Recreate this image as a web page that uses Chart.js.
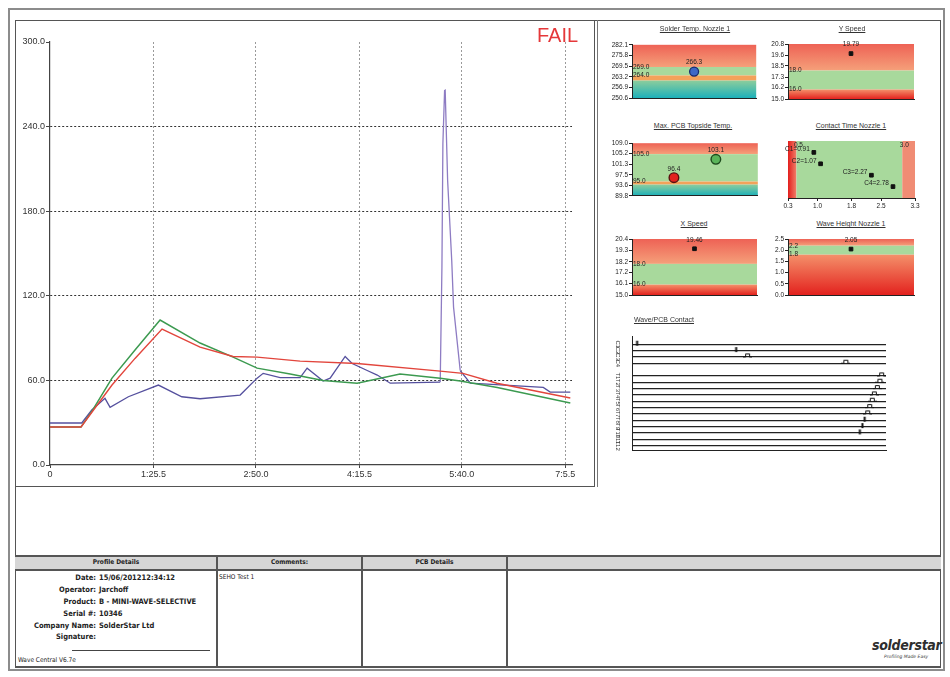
<!DOCTYPE html>
<html>
<head>
<meta charset="utf-8">
<title>Wave Central profile</title>
<script src="https://cdn.jsdelivr.net/npm/chart.js@4.4.1/dist/chart.umd.min.js"></script>
<style>
  body { margin: 0; background: #fff; }
  #page { position: relative; width: 950px; height: 677px; overflow: hidden; color: #222; font-family: "DejaVu Sans Condensed", "DejaVu Sans", sans-serif; }
  .box { position: absolute; box-sizing: border-box; }
  canvas { position: absolute; }
  .ttl { position: absolute; width: 150px; text-align: center; font: 7px "Liberation Sans", Arial, sans-serif; text-decoration: underline; color: #333; line-height: 9px; }
  .hd { position: absolute; top: 557px; font-size: 6.5px; font-weight: bold; text-align: center; line-height: 11px; }
  .lbl { position: absolute; left: 15px; width: 81px; text-align: right; font-size: 7.5px; font-weight: bold; line-height: 10px; }
  .val { position: absolute; left: 99px; font-size: 7.5px; font-weight: bold; line-height: 10px; white-space: nowrap; }
</style>
</head>
<body>
<div id="page">
  <div class="box" style="left:8px;top:8px;width:937px;height:663px;border:2px solid #8c8c8c;"></div>
  <div class="box" style="left:15px;top:20px;width:926px;height:648px;border:1px solid #555;"></div>
  <div class="box" style="left:15px;top:20px;width:580px;height:467px;border:1px solid #555;"></div>
  <div class="box" style="left:597px;top:20px;width:1px;height:467px;background:#777;"></div>

  <canvas id="profile" width="578" height="464" style="left:16px;top:21px;"></canvas>
  <div class="box" style="left:537px;top:24px;font:20px 'Liberation Sans',Arial,sans-serif;color:#e5383a;line-height:22px;">FAIL</div>

  <div class="ttl" style="left:620px;top:24px;">Solder Temp. Nozzle 1</div>
  <div class="ttl" style="left:777px;top:24px;">Y Speed</div>
  <div class="ttl" style="left:618px;top:121px;">Max. PCB Topside Temp.</div>
  <div class="ttl" style="left:776px;top:121px;">Contact Time Nozzle 1</div>
  <div class="ttl" style="left:619px;top:219px;">X Speed</div>
  <div class="ttl" style="left:776px;top:219px;">Wave Height Nozzle 1</div>
  <div class="ttl" style="left:589px;top:315px;">Wave/PCB Contact</div>

  <canvas id="solderTemp" width="156" height="65" style="left:606px;top:39px;"></canvas>
  <canvas id="ySpeed" width="157" height="65" style="left:762px;top:39px;"></canvas>
  <canvas id="pcbTemp" width="158" height="65" style="left:606px;top:137px;"></canvas>
  <canvas id="contactTime" width="139" height="76" style="left:782px;top:136px;"></canvas>
  <canvas id="xSpeed" width="156" height="66" style="left:606px;top:234px;"></canvas>
  <canvas id="waveHeight" width="157" height="66" style="left:762px;top:234px;"></canvas>
  <canvas id="waveContact" width="281" height="124" style="left:610px;top:331px;"></canvas>

  <!-- details table -->
  <div class="box" style="left:15px;top:555px;width:926px;height:16px;background:#d6d6d6;border-top:2px solid #555;border-bottom:2px solid #555;"></div>
  <div class="box" style="left:216px;top:555px;width:2px;height:112px;background:#555;"></div>
  <div class="box" style="left:361px;top:555px;width:2px;height:112px;background:#555;"></div>
  <div class="box" style="left:506px;top:555px;width:2px;height:112px;background:#555;"></div>
  <div class="box" style="left:15px;top:666px;width:926px;height:2px;background:#555;"></div>
  <div class="hd" style="left:15px;width:202px;">Profile Details</div>
  <div class="hd" style="left:217px;width:145px;">Comments:</div>
  <div class="hd" style="left:362px;width:145px;">PCB Details</div>

  <div class="lbl" style="top:573px;">Date:</div><div class="val" style="top:573px;">15/06/201212:34:12</div>
  <div class="lbl" style="top:585px;">Operator:</div><div class="val" style="top:585px;">Jarchoff</div>
  <div class="lbl" style="top:597px;">Product:</div><div class="val" style="top:597px;">B - MINI-WAVE-SELECTIVE</div>
  <div class="lbl" style="top:609px;">Serial #:</div><div class="val" style="top:609px;">10346</div>
  <div class="lbl" style="top:621px;">Company Name:</div><div class="val" style="top:621px;">SolderStar Ltd</div>
  <div class="lbl" style="top:632px;">Signature:</div>
  <div class="box" style="left:72px;top:650px;width:138px;height:1px;background:#444;"></div>
  <div class="box" style="left:18px;top:656px;font-size:6.5px;line-height:9px;">Wave Central V6.7e</div>
  <div class="box" style="left:219px;top:573px;font-size:6.5px;line-height:9px;">SEHO Test 1</div>
  <div class="box" style="left:872px;top:637px;font:italic bold 14px 'DejaVu Sans Condensed',sans-serif;color:#2e2e2e;letter-spacing:-0.3px;">solderstar</div>
  <div class="box" style="left:884px;top:654px;font:italic 4.5px 'DejaVu Sans',sans-serif;color:#444;">Profiling Made Easy</div>
</div>

<script>
// ---- main profile: time (s) and temperature (°C) ----
const xTickValues = [0, 85.5, 170, 255.5, 340, 425.5];
const xTickLabels = ["0", "1:25.5", "2:50.0", "4:15.5", "5:40.0", "7:5.5"];
const yTickValues = [0, 60, 120, 180, 240, 300];

const greenTime = [0, 25.6, 34.4, 51.2, 70.2, 90.9, 123.9, 151.2, 171, 198.3, 225.5, 253.6, 289, 322.2, 338.7, 369.3, 429.6];
const greenTemp = [27, 27, 37.8, 61.6, 81.5, 102.8, 86.5, 76.5, 68.7, 64.5, 60, 58, 64.5, 61.6, 59.5, 55, 44];

const redTime = [0, 25.6, 51.2, 70.2, 92.5, 123.9, 151.2, 171, 206.5, 253.6, 322.2, 341, 369, 429.6];
const redTemp = [27, 27, 56.7, 75.6, 96.4, 83.6, 77, 76.5, 73.7, 72, 66.6, 65, 58, 47.5];

const purpleTime = [0, 26.2, 34.5, 45.4, 49.6, 64.7, 89.5, 108.8, 123.9, 157, 171, 176, 190, 206.5, 212.3, 225.5, 231.3, 243.7, 249.5, 261.9, 270.2, 280.9, 322.2, 323.6, 324.4, 325.8, 326.3, 328.3, 331.7, 333.2, 338.7, 347, 407.3, 413, 429.6];
const purpleTemp = [29.8, 29.8, 39, 47.3, 40.9, 48.4, 56.7, 48.4, 47, 49.6, 61.6, 65, 62, 62, 68.7, 59.5, 61.6, 77, 72, 67, 63.8, 58, 58.8, 140, 228, 265.5, 265.8, 202, 145, 112, 67, 58, 55, 51.7, 51.7];

// ---- process window charts ----
const solderTempTicks = [250.6, 256.9, 263.2, 269.5, 275.8, 282.1];
const solderTempLimits = [261.0, 264.0, 269.0];
const solderTempValues = [266.3];

const ySpeedTicks = [15.0, 16.2, 17.3, 18.5, 19.6, 20.8];
const ySpeedLimits = [16.0, 18.0];
const ySpeedValues = [19.79];

const pcbTempTicks = [89.8, 93.6, 97.5, 101.3, 105.2, 109.0];
const pcbTempLimits = [93.9, 95.0, 105.0];
const pcbTempValues = [96.4, 103.1];

const contactTicks = [0.3, 1.0, 1.8, 2.5, 3.3];
const contactLimits = [0.5, 3.0];
const contactNames = ["C1", "C2", "C3", "C4"];
const contactValues = [0.91, 1.07, 2.27, 2.78];

const xSpeedTicks = [15.0, 16.1, 17.2, 18.2, 19.3, 20.4];
const xSpeedLimits = [16.0, 18.0];
const xSpeedValues = [19.46];

const waveHeightTicks = [0.0, 0.5, 1.0, 1.5, 2.0, 2.5];
const waveHeightLimits = [1.8, 2.2];
const waveHeightValues = [2.05];

// ---- wave / pcb contact events ----
const waveRowLabels = ["C1", "C2", "C3", "C4", "", "T1", "T2", "T3", "T4", "T5", "T6", "T7", "T8", "T9", "T10", "T11", "T12"];
const pulseRow = [0, 1, 2, 3, 5, 6, 7, 8, 9, 10, 11, 12, 13, 14];
const pulseTime = [2, 41, 45.5, 84.2, 98.3, 97.6, 96.6, 95.4, 94.6, 93.6, 92.8, 91.6, 90.7, 89.7];
const pulseKind = ["tick", "tick", "bump", "bump", "bump", "bump", "bump", "bump", "bump", "bump", "bump", "tick", "tick", "tick"];

const axisFont = { family: "'Liberation Sans', Arial, sans-serif", size: 9 };
const tinyFont = { family: "'Liberation Sans', Arial, sans-serif", size: 6.5 };
const pts = (xs, ys) => xs.map((x, i) => ({ x, y: ys[i] }));

Chart.defaults.animation = false;
Chart.defaults.events = [];
Chart.defaults.plugins.legend.display = false;
Chart.defaults.plugins.tooltip.enabled = false;

new Chart(document.getElementById("profile"), {
  type: "line",
  data: {
    datasets: [
      { data: pts(redTime, redTemp), borderColor: "#e2453c", borderWidth: 1.4, pointRadius: 0 },
      { data: pts(greenTime, greenTemp), borderColor: "#3c9a50", borderWidth: 1.5, pointRadius: 0 },
      {
        data: pts(purpleTime, purpleTemp), borderColor: "#55509e", borderWidth: 1.3, pointRadius: 0,
        segment: { borderColor: c => (c.p0.parsed.y > 90 || c.p1.parsed.y > 90) ? "#8e7cc3" : undefined },
      },
    ],
  },
  options: {
    responsive: false,
    layout: { padding: { top: 21, right: 22, left: 0, bottom: 0 } },
    scales: {
      x: {
        type: "linear", min: 0, max: 431,
        afterBuildTicks: s => { s.ticks = xTickValues.map(v => ({ value: v })); },
        afterFit: s => { s.height = 20; },
        ticks: { font: axisFont, color: "#333", padding: 1, maxRotation: 0, autoSkip: false, callback: (v, i) => xTickLabels[i] },
        grid: { color: c => c.tick && c.tick.value === 0 ? "rgba(0,0,0,0)" : "#9a9a9a", tickColor: "#444", tickLength: 3 },
        border: { color: "#444", width: 1.2, dash: [2, 2] },
      },
      y: {
        type: "linear", min: 0, max: 300,
        afterBuildTicks: s => { s.ticks = yTickValues.map(v => ({ value: v })); },
        afterFit: s => { s.width = 34; },
        ticks: { font: axisFont, color: "#333", padding: 1, autoSkip: false, callback: v => v.toFixed(1) },
        grid: { color: c => c.tick && (c.tick.value === 0 || c.tick.value === 300) ? "rgba(0,0,0,0)" : "#333", tickColor: "#444", tickLength: 4 },
        border: { color: "#444", width: 1.2, dash: [2, 2] },
      },
    },
  },
});

// coloured process windows behind the markers
const bandPlugin = {
  id: "bands",
  beforeDraw(chart, args, o) {
    if (!o.kind) return;
    const { ctx, chartArea: a, scales } = chart;
    ctx.save();
    let g;
    if (o.kind === "contact") {
      const xl = scales.x.getPixelForValue(o.low), xh = scales.x.getPixelForValue(o.high);
      g = ctx.createLinearGradient(a.left, 0, xl, 0);
      g.addColorStop(0, "#e31e1c"); g.addColorStop(1, "#f0806a");
      ctx.fillStyle = g; ctx.fillRect(a.left, a.top, xl - a.left, a.height);
      ctx.fillStyle = "#a8d99c"; ctx.fillRect(xl, a.top, xh - xl, a.height);
      ctx.fillStyle = "#f08c74"; ctx.fillRect(xh, a.top, a.right - xh, a.height);
    } else {
      const y = scales.y;
      const yh = y.getPixelForValue(o.high), yl = y.getPixelForValue(o.low);
      g = ctx.createLinearGradient(0, a.top, 0, yh);
      g.addColorStop(0, "#ee6255"); g.addColorStop(1, "#f5a07a");
      ctx.fillStyle = g; ctx.fillRect(a.left, a.top, a.width, yh - a.top);
      ctx.fillStyle = "#a8d99c"; ctx.fillRect(a.left, yh, a.width, yl - yh);
      if (o.kind === "temp") {
        const yw = y.getPixelForValue(o.warn);
        ctx.fillStyle = "#f3a25a"; ctx.fillRect(a.left, yl, a.width, yw - yl);
        g = ctx.createLinearGradient(0, yw, 0, a.bottom);
        g.addColorStop(0, "#8ccd9c"); g.addColorStop(1, "#1bb0ba");
        ctx.fillStyle = g; ctx.fillRect(a.left, yw, a.width, a.bottom - yw);
      } else {
        g = ctx.createLinearGradient(0, yl, 0, a.bottom);
        g.addColorStop(0, "#f4906a"); g.addColorStop(1, "#e3221e");
        ctx.fillStyle = g; ctx.fillRect(a.left, yl, a.width, a.bottom - yl);
      }
    }
    ctx.restore();
  },
  afterDatasetsDraw(chart, args, o) {
    if (!o.kind) return;
    const { ctx, chartArea: a, scales } = chart;
    ctx.save();
    ctx.font = "6.5px 'Liberation Sans', Arial, sans-serif";
    ctx.fillStyle = "#222";
    ctx.textBaseline = "middle";
    if (o.kind === "contact") {
      ctx.textAlign = "center";
      [o.low, o.high].forEach(v => ctx.fillText(v.toFixed(1), scales.x.getPixelForValue(v) + 2, a.top + 4));
    } else {
      ctx.textAlign = "left";
      [o.low, o.high].forEach(v => ctx.fillText(v.toFixed(1), a.left + 1, scales.y.getPixelForValue(v)));
    }
    chart.getDatasetMeta(0).data.forEach((pt, i) => {
      if (o.kind === "contact") {
        ctx.textAlign = "right";
        ctx.fillText(o.labels[i], pt.x - 4, pt.y - 3);
      } else {
        ctx.textAlign = "center";
        ctx.fillText(o.labels[i], pt.x, pt.y - 9);
      }
    });
    ctx.restore();
  },
};

function windowChart(id, ticks, limits, values, decimals, kind, marker) {
  const lim = kind === "temp" ? { warn: limits[0], low: limits[1], high: limits[2] } : { low: limits[0], high: limits[1] };
  return new Chart(document.getElementById(id), {
    type: "scatter",
    data: {
      datasets: [{
        data: values.map((v, i) => ({ x: i + 1, y: v })),
        pointStyle: marker.style, pointRadius: marker.radius,
        backgroundColor: marker.fill, borderColor: marker.stroke, borderWidth: marker.width,
      }],
    },
    options: {
      responsive: false,
      layout: { padding: { top: 4, right: 4, bottom: 2, left: 0 } },
      plugins: { bands: Object.assign({ kind, labels: values.map(v => v.toFixed(decimals)) }, lim) },
      scales: {
        x: {
          type: "linear", min: 0, max: values.length + 1,
          ticks: { display: false }, grid: { display: false },
          border: { color: "#222", width: 1 },
          afterFit: s => { s.height = 0; },
        },
        y: {
          type: "linear", min: ticks[0], max: ticks[ticks.length - 1],
          afterBuildTicks: s => { s.ticks = ticks.map(v => ({ value: v })); },
          afterFit: s => { s.width = 26; },
          ticks: { font: tinyFont, color: "#222", padding: 1, autoSkip: false, callback: v => v.toFixed(1) },
          grid: { drawOnChartArea: false, tickLength: 3, tickColor: "#222" },
          border: { color: "#222", width: 1 },
        },
      },
    },
    plugins: [bandPlugin],
  });
}

const squareMark = { style: "rect", radius: 2.6, fill: "#111", stroke: "#111", width: 1 };
windowChart("solderTemp", solderTempTicks, solderTempLimits, solderTempValues, 1, "temp",
  { style: "circle", radius: 4.5, fill: "#3d68c6", stroke: "#1b2a6e", width: 1.3 });
windowChart("ySpeed", ySpeedTicks, ySpeedLimits, ySpeedValues, 2, "speed", squareMark);
windowChart("pcbTemp", pcbTempTicks, pcbTempLimits, pcbTempValues, 1, "temp",
  { style: "circle", radius: 4.8, fill: ["#e2231f", "#5ab45a"], stroke: ["#5a1010", "#1d4a1d"], width: 1.4 });
windowChart("xSpeed", xSpeedTicks, xSpeedLimits, xSpeedValues, 2, "speed", squareMark);
windowChart("waveHeight", waveHeightTicks, waveHeightLimits, waveHeightValues, 2, "speed", squareMark);

// contact time: values on the horizontal axis, probes stacked downwards
new Chart(document.getElementById("contactTime"), {
  type: "scatter",
  data: {
    datasets: [{
      data: contactValues.map((v, i) => ({ x: v, y: contactValues.length - i })),
      pointStyle: "rect", pointRadius: 2.6, backgroundColor: "#111", borderColor: "#111",
    }],
  },
  options: {
    responsive: false,
    layout: { padding: { top: 4, right: 6, bottom: 0, left: 6 } },
    plugins: {
      bands: {
        kind: "contact", low: contactLimits[0], high: contactLimits[1],
        labels: contactValues.map((v, i) => contactNames[i] + "=" + v.toFixed(2)),
      },
    },
    scales: {
      x: {
        type: "linear", min: contactTicks[0], max: contactTicks[contactTicks.length - 1],
        afterBuildTicks: s => { s.ticks = contactTicks.map(v => ({ value: v })); },
        afterFit: s => { s.height = 14; },
        ticks: { font: tinyFont, color: "#222", padding: 1, maxRotation: 0, autoSkip: false, callback: v => v.toFixed(1) },
        grid: { drawOnChartArea: false, tickLength: 3, tickColor: "#222" },
        border: { color: "#222", width: 1 },
      },
      y: { type: "linear", min: 0, max: 5, display: false },
    },
  },
  plugins: [bandPlugin],
});

// wave/pcb contact rows
function pulseGlyph(kind) {
  const c = document.createElement("canvas");
  c.width = 9; c.height = 9;
  const g = c.getContext("2d");
  g.strokeStyle = "#111"; g.fillStyle = "#111"; g.lineWidth = 1;
  if (kind === "bump") {
    g.beginPath();
    g.moveTo(0, 4.5); g.lineTo(2.5, 4.5); g.lineTo(2.5, 1.5); g.lineTo(6.5, 1.5); g.lineTo(6.5, 4.5); g.lineTo(9, 4.5);
    g.stroke();
  } else {
    g.fillRect(3.5, 1, 2, 5);
  }
  return c;
}
const glyphs = { bump: pulseGlyph("bump"), tick: pulseGlyph("tick") };

const rowLabelPlugin = {
  id: "rowLabels",
  afterDraw(chart) {
    const { ctx, chartArea: a, scales } = chart;
    ctx.save();
    ctx.font = "6px 'Liberation Sans', Arial, sans-serif";
    ctx.fillStyle = "#333";
    ctx.textAlign = "center";
    ctx.textBaseline = "middle";
    waveRowLabels.forEach((t, r) => {
      if (!t) return;
      ctx.save();
      ctx.translate(a.left - 14, scales.y.getPixelForValue(r));
      ctx.rotate(Math.PI / 2);
      ctx.fillText(t, 0, 0);
      ctx.restore();
    });
    ctx.restore();
  },
};

new Chart(document.getElementById("waveContact"), {
  type: "scatter",
  data: {
    datasets: [{
      data: pulseTime.map((t, i) => ({ x: t, y: pulseRow[i] })),
      pointStyle: pulseKind.map(k => glyphs[k]),
      pointRadius: 4,
    }],
  },
  options: {
    responsive: false,
    layout: { padding: { top: 2, right: 4, bottom: 2, left: 0 } },
    scales: {
      x: {
        type: "linear", min: 0, max: 100,
        ticks: { display: false }, grid: { display: false },
        border: { color: "#222", width: 1 },
        afterFit: s => { s.height = 0; },
      },
      y: {
        type: "linear", reverse: true, min: -1.3, max: 16.7,
        afterBuildTicks: s => { s.ticks = waveRowLabels.map((t, r) => ({ value: r, t })).filter(d => d.t).map(d => ({ value: d.value })); },
        afterFit: s => { s.width = 22; },
        ticks: { display: false },
        grid: { color: "#222", lineWidth: 1.3, drawTicks: false },
        border: { color: "#222", width: 1 },
      },
    },
  },
  plugins: [rowLabelPlugin],
});
</script>
</body>
</html>
